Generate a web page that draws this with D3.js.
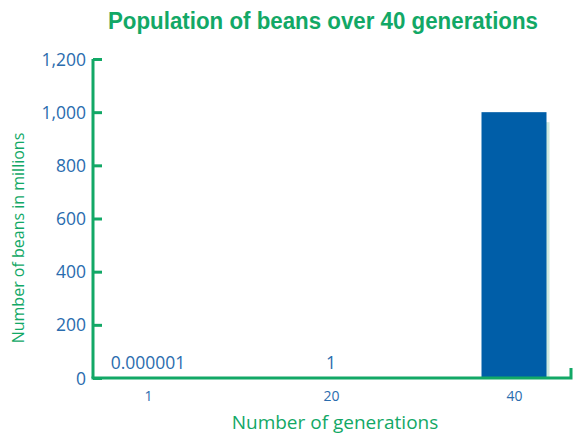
<!DOCTYPE html>
<html>
<head>
<meta charset="utf-8">
<script src="https://cdn.jsdelivr.net/npm/d3@7"></script>
<style>
  body { margin: 0; background: #fff; }
  text { font-family: "Open Sans", sans-serif; }
</style>
</head>
<body>
<div id="chart"></div>
<script>
// data
const generations = ["1", "20", "40"];
const beans = [0.000001, 1, 1000];
const yTicks = [0, 200, 400, 600, 800, 1000, 1200];

const green = "#12a866";
const blue = "#2a6cae";

const width = 573, height = 436;
const margin = { top: 59, left: 93, right: 1, bottom: 58 };

const svg = d3.select("#chart").append("svg")
  .attr("width", width)
  .attr("height", height);

// Scales
let x = d3.scalePoint()
  .domain(generations)
  .range([148, 514]);

let y = d3.scaleLinear()
  .domain([0, 1200])
  .range([height - margin.bottom, margin.top]);

const barWidth = 65;

// Title (condensed look via textLength)
svg.append("text")
  .attr("x", 108)
  .attr("y", 29)
  .attr("textLength", 430)
  .attr("lengthAdjust", "spacingAndGlyphs")
  .style("font-family", "'Liberation Sans', Arial, sans-serif")
  .style("font-weight", "bold")
  .style("font-size", "23px")
  .attr("fill", green)
  .text("Population of beans over 40 generations");

// Bar shadow + bars
const bars = svg.append("g");
bars.selectAll(".shadow")
  .data(beans)
  .enter().append("rect")
  .attr("class", "shadow")
  .attr("fill", "#cfeadf")
  .attr("x", (d, i) => x(generations[i]) - barWidth / 2 + 3)
  .attr("y", (d) => y(d) + 10)
  .attr("width", barWidth)
  .attr("height", (d) => Math.max(0, y(0) - y(d) - 10));

bars.selectAll(".bar")
  .data(beans)
  .enter().append("rect")
  .attr("class", "bar")
  .attr("fill", "#005ea8")
  .attr("x", (d, i) => x(generations[i]) - barWidth / 2)
  .attr("y", (d) => y(d))
  .attr("width", barWidth)
  .attr("height", (d) => y(0) - y(d));

// value labels for tiny bars
svg.selectAll(".val")
  .data(beans.filter((d) => d < 100))
  .enter().append("text")
  .attr("class", "val")
  .attr("x", (d, i) => x(generations[i]))
  .attr("y", y(0) - 9)
  .attr("text-anchor", "middle")
  .attr("fill", blue)
  .style("font-size", "17.5px")
  .text((d) => d === 1 ? "1" : d.toFixed(6));

// Y axis
const yAxis = svg.append("g")
  .attr("transform", "translate(" + margin.left + ",0)")
  .call(d3.axisRight(y).tickValues(yTicks).tickSize(9).tickFormat(d3.format(",")));
yAxis.select(".domain").attr("stroke", green).attr("stroke-width", 3)
  .attr("d", "M0," + y(1200) + "H0V" + y(0));
yAxis.selectAll(".tick line").attr("stroke", green).attr("stroke-width", 3);
yAxis.selectAll(".tick text")
  .attr("x", -7)
  .attr("dy", "0.35em")
  .attr("text-anchor", "end")
  .attr("fill", blue)
  .style("font-size", "17.5px");

// X axis
const xAxis = svg.append("g")
  .attr("transform", "translate(0," + y(0) + ")")
  .call(d3.axisBottom(x).tickSize(0));
xAxis.select(".domain")
  .attr("stroke", green)
  .attr("stroke-width", 3)
  .attr("d", "M" + (margin.left - 1.5) + ",0H" + (width - 2) + "V-10");
xAxis.selectAll(".tick text")
  .attr("y", 13)
  .attr("fill", blue)
  .style("font-size", "14px");

// Axis labels
svg.append("text")
  .attr("x", 335)
  .attr("y", 429)
  .attr("text-anchor", "middle")
  .attr("fill", green)
  .style("font-size", "19px")
  .text("Number of generations");

svg.append("text")
  .attr("transform", "translate(24,238) rotate(-90)")
  .attr("text-anchor", "middle")
  .attr("fill", green)
  .style("font-size", "16px")
  .text("Number of beans in millions");
</script>
</body>
</html>
